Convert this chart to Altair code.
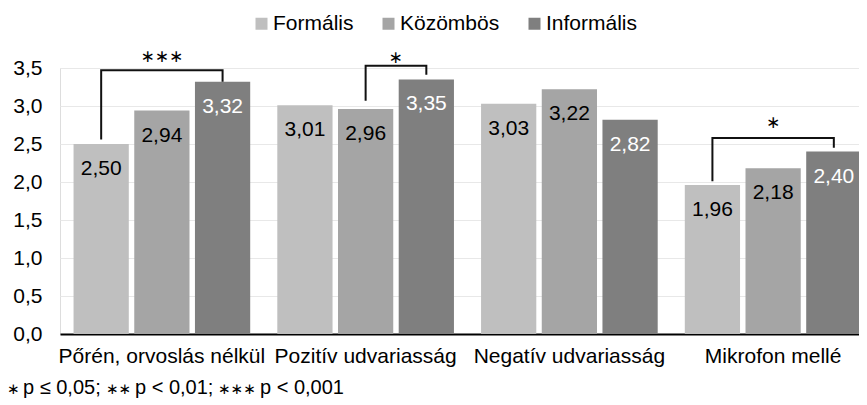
import altair as alt
import pandas as pd

categories = ["Pőrén, orvoslás nélkül", "Pozitív udvariasság", "Negatív udvariasság", "Mikrofon mellé"]
series = ["Formális", "Közömbös", "Informális"]
colors = ["#bfbfbf", "#a5a5a5", "#7f7f7f"]
formalis = [2.50, 3.01, 3.03, 1.96]
kozombos = [2.94, 2.96, 3.22, 2.18]
informalis = [3.32, 3.35, 2.82, 2.40]
y_ticks = [0, 0.5, 1.0, 1.5, 2.0, 2.5, 3.0, 3.5]

# significance brackets
bracket_cat = ["Pőrén, orvoslás nélkül", "Pozitív udvariasság", "Mikrofon mellé"]
bracket_from = ["Formális", "Közömbös", "Formális"]
bracket_to = ["Informális", "Informális", "Informális"]
bracket_top = [3.47, 3.53, 2.58]
bracket_left_end = [2.56, 3.07, 2.01]
bracket_right_end = [3.32, 3.41, 2.45]
stars = ["∗∗∗", "∗", "∗"]
star_y = [3.64, 3.63, 2.78]
star_series = ["Közömbös", "Közömbös", "Közömbös"]
star_shift = [0, 1, 0]

# footnote, split into asterisk parts and text parts
foot_text = ["p ≤ 0,05;", "p < 0,01;", "p < 0,001"]
foot_text_x = [-37, 75, 200]
foot_star = ["∗", "∗∗", "∗∗∗"]
foot_star_x = [-53, 46, 158]

FONT = "Liberation Sans"
FS = 21

rows = []
for i, c in enumerate(categories):
    for s, vals in zip(series, [formalis, kozombos, informalis]):
        rows.append({"cat": c, "series": s, "value": vals[i]})
bars_df = pd.DataFrame(rows)

line_rows = []
for j in range(len(bracket_cat)):
    pts = [(bracket_from[j], bracket_left_end[j]), (bracket_from[j], bracket_top[j]),
           (bracket_to[j], bracket_top[j]), (bracket_to[j], bracket_right_end[j])]
    for k, (s, v) in enumerate(pts):
        line_rows.append({"cat": bracket_cat[j], "series": s, "value": v, "bid": j, "ord": k})
line_df = pd.DataFrame(line_rows)

star_df = pd.DataFrame({"cat": bracket_cat, "series": star_series, "value": star_y,
                        "label": stars, "shift": star_shift})

x_enc = alt.X("cat:N", sort=categories,
              scale=alt.Scale(range=[0, 815], paddingInner=0.133, paddingOuter=0.0665),
              axis=alt.Axis(title=None, labelAngle=0, labelFontSize=FS, labelColor="#000",
                            domainColor="#000", domainWidth=2, ticks=False, labelPadding=11,
                            grid=False, labelFont=FONT, labelLimit=0))
xo_enc = alt.XOffset("series:N", sort=series, scale=alt.Scale(paddingInner=0.09, paddingOuter=0))
y_enc = alt.Y("value:Q", scale=alt.Scale(domain=[0, 3.5], nice=False, zero=True),
              axis=alt.Axis(title=None, values=y_ticks, domain=False, ticks=False,
                            labelExpr="replace(format(datum.value, '.1f'), '.', ',')",
                            labelFontSize=FS, labelColor="#000", labelPadding=18,
                            gridColor="#e8e8e8", gridWidth=1, labelFont=FONT))

bars = alt.Chart(bars_df).mark_bar().encode(
    x=x_enc, xOffset=xo_enc, y=y_enc,
    color=alt.Color("series:N", sort=series,
                    scale=alt.Scale(domain=series, range=colors),
                    legend=alt.Legend(title=None, orient="none", legendX=191, legendY=-55,
                                      direction="horizontal", symbolType="square",
                                      symbolSize=144, symbolStrokeWidth=0,
                                      labelFontSize=FS, labelFont=FONT, labelColor="#000",
                                      columnPadding=24, labelOffset=1)),
)

labels = alt.Chart(bars_df).transform_calculate(
    label="replace(format(datum.value, '.2f'), '.', ',')"
).mark_text(baseline="top", dy=14, fontSize=FS, font=FONT).encode(
    x=x_enc, xOffset=xo_enc, y=y_enc,
    text="label:N",
    color=alt.condition(alt.datum.series == "Informális", alt.value("#ffffff"), alt.value("#000000")),
)

brackets = alt.Chart(line_df).mark_line(color="#111111", strokeWidth=2, interpolate="linear").encode(
    x=x_enc, xOffset=xo_enc, y=y_enc,
    detail="bid:N", order="ord:Q",
)

stars0 = alt.Chart(star_df).transform_filter("datum.shift == 0").mark_text(
    baseline="middle", fontSize=17, font="DejaVu Sans", color="#000").encode(
    x=x_enc, xOffset=xo_enc, y=y_enc, text="label:N")
stars1 = alt.Chart(star_df).transform_filter("datum.shift == 1").mark_text(
    baseline="middle", fontSize=17, font="DejaVu Sans", color="#000", dx=30).encode(
    x=x_enc, xOffset=xo_enc, y=y_enc, text="label:N")

foot_t = alt.Chart(pd.DataFrame({"t": foot_text, "px": foot_text_x})).mark_text(
    align="left", baseline="middle", fontSize=20, font=FONT, color="#000").encode(
    x=alt.X("px:Q", scale=None), y=alt.value(320), text="t:N")
foot_s = alt.Chart(pd.DataFrame({"t": foot_star, "px": foot_star_x})).mark_text(
    align="left", baseline="middle", fontSize=15, font="DejaVu Sans", color="#000").encode(
    x=alt.X("px:Q", scale=None), y=alt.value(321), text="t:N")

chart = alt.layer(bars, labels, brackets, stars0, stars1, foot_t, foot_s).properties(
    width=799, height=266,
    autosize=alt.AutoSizeParams(type="none"),
    padding={"left": 52, "top": 60, "right": 0, "bottom": 70},
).configure_view(strokeWidth=0).configure(font=FONT)

chart.save("out.html", embed_options={"renderer": "svg", "actions": False})
